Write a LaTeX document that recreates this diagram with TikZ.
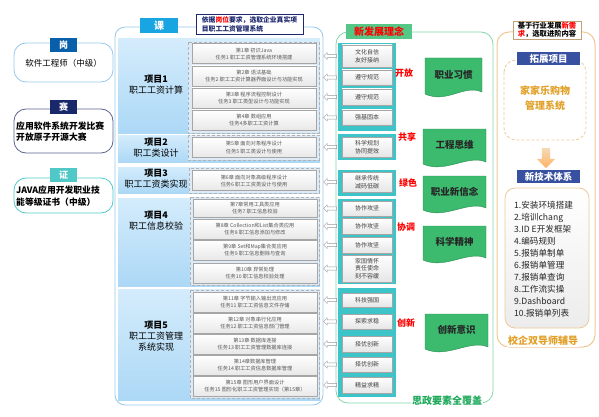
\documentclass[tikz,border=0pt]{standalone}
\usepackage{fontspec}
\setmainfont{Noto Sans CJK SC}
\usepackage{xcolor}
\usepackage{tikz}
\usetikzlibrary{arrows.meta,positioning,shapes.arrows}

\definecolor{gangblue}{RGB}{10,95,170}
\definecolor{gangline}{RGB}{150,200,235}
\definecolor{sainavy}{RGB}{25,40,105}
\definecolor{sailine}{RGB}{90,100,140}
\definecolor{zhengteal}{RGB}{80,200,200}
\definecolor{keblue}{RGB}{25,165,225}
\definecolor{bandtop}{RGB}{212,236,252}
\definecolor{bandbot}{RGB}{172,216,246}
\definecolor{grpfill}{RGB}{222,235,247}
\definecolor{tealgrp}{RGB}{60,196,200}
\definecolor{newgreen}{RGB}{85,200,135}
\definecolor{greenline}{RGB}{130,215,170}
\definecolor{docgreen}{RGB}{60,186,110}
\definecolor{docline}{RGB}{40,140,80}
\definecolor{orline}{RGB}{240,200,150}
\definecolor{ortext}{RGB}{225,160,40}
\definecolor{tagblue}{RGB}{55,80,160}
\definecolor{sizheng}{RGB}{30,170,90}
\definecolor{notenavy}{RGB}{30,40,110}

% wavy document box: x0,y0,x1,y1
\newcommand{\wavedoc}[4]{%
  \draw[docline, fill=docgreen] (#1,#2) -- (#3,#2) -- (#3,#4-5)
    .. controls (#3-18,#4-13) and (#1+22,#4+7) .. (#1,#4-3) -- cycle;}

\begin{document}
\begin{tikzpicture}[x=1pt, y=-1pt,
    tag/.style={minimum width=27pt, minimum height=14pt, inner sep=0pt, text=white, font=\fontsize{9}{10}\selectfont\bfseries},
    bigtag/.style={minimum width=63pt, minimum height=13pt, inner sep=0pt, fill=tagblue, text=white, font=\fontsize{9.5}{10}\selectfont\bfseries},
    proj/.style={align=center, font=\fontsize{9}{11}\selectfont},
    grp/.style={draw=gray!60, densely dashed, fill=grpfill},
    chap/.style={draw=gray!70, top color=white, bottom color=gray!18, minimum width=124pt, minimum height=20pt, inner sep=0pt, align=center, text=black!65, font=\fontsize{5.2}{7}\selectfont},
    item/.style={draw=gray!70, top color=white, bottom color=gray!20, minimum width=50pt, inner sep=1pt, align=center, text=black!75, font=\fontsize{6}{7.5}\selectfont},
    harrow/.style={single arrow, shape border rotate=180, draw=gray!80, fill=white, minimum height=13pt, inner sep=1.4pt, single arrow head extend=2pt},
    idea/.style={text=red, font=\fontsize{9}{10}\selectfont\bfseries},
    doctext/.style={text=black!85, font=\fontsize{9.5}{11}\selectfont\bfseries}]
  \useasboundingbox (0,0) rectangle (599,417);

  % left column
  \draw[gangline, line width=0.8pt, rounded corners=12] (14,43) rectangle (113,82);
  \node[tag, fill=gangblue] (gang) at (63.5,45) {岗};
  \node[font=\fontsize{8.5}{10}\selectfont] (gangtxt) at (63.5,63) {软件工程师（中级）};
  \draw[sailine, line width=0.8pt, rounded corners=12] (14,109) rectangle (113,153);
  \node[tag, fill=sainavy] (sai) at (63.5,107.5) {赛};
  \node[anchor=west, align=left, inner sep=0pt, font=\fontsize{8.8}{11}\selectfont\bfseries] (saitxt) at (16,131.5) {应用软件系统开发比赛\\开放原子开源大赛};
  \draw[zhengteal, line width=0.8pt, rounded corners=12] (14,178) rectangle (113,213);
  \node[tag, fill=zhengteal] (zheng) at (63.5,175) {证};
  \node[anchor=west, align=left, inner sep=0pt, font=\fontsize{8.8}{12}\selectfont\bfseries] (zhengtxt) at (16,196) {JAVA应用开发职业技\\能等级证书（中级）};

  % course panel
  \draw[gangline, line width=0.8pt, rounded corners=10] (115,27) rectangle (323,405);
  \node[tag, fill=keblue, minimum width=38pt, minimum height=15pt, font=\fontsize{10}{11}\selectfont\bfseries] (ke) at (159,25.5) {课};
  \node[draw=notenavy, fill=white, minimum width=107pt, minimum height=20pt, inner sep=1pt, align=left, text=notenavy, font=\fontsize{6.8}{9}\selectfont\bfseries] (note) at (249.5,24)
    {依据\textcolor{red}{岗位}要求，选取企业真实项\\目职工工资管理系统};
  \fill[top color=bandtop, bottom color=bandbot] (118,39) rectangle (320,133);
  \fill[top color=bandtop, bottom color=bandbot] (118,135) rectangle (320,162);
  \fill[top color=bandtop, bottom color=bandbot] (118,167) rectangle (320,193);
  \fill[top color=bandtop, bottom color=bandbot] (118,198) rectangle (320,286);
  \fill[top color=bandtop, bottom color=bandbot] (118,289) rectangle (320,400);
  \node[proj] (p1) at (156,85) {\textbf{项目1}\\职工工资计算};
  \node[proj] (p2) at (156,148) {\textbf{项目2}\\职工类设计};
  \node[proj] (p3) at (156,179) {\textbf{项目3}\\职工工资类实现};
  \node[proj] (p4) at (156,221) {\textbf{项目4}\\职工信息校验};
  \node[proj] (p5) at (156,336) {\textbf{项目5}\\职工工资管理\\系统实现};
  \draw[grp] (188,42) rectangle (319,133);
  \draw[grp] (188,135) rectangle (319,160);
  \draw[grp] (189,168) rectangle (319,193);
  \draw[grp] (190,197) rectangle (319,285);
  \draw[grp] (190,290) rectangle (319,398);
  \node[chap] (c1) at (254,53.5) {第1章\ 初识Java\\任务1 职工工资管理系统环境搭建};
  \node[chap] (c2) at (254,76) {第2章\ 语法基础\\任务2 职工工资计算器界面设计与功能实现};
  \node[chap] (c3) at (254,98) {第3章\ 程序流程控制设计\\任务3 职工类型设计与功能实现};
  \node[chap] (c4) at (254,120) {第4章\ 数组应用\\任务4多职工工资计算};
  \node[chap] (c5) at (254,147.5) {第5章\ 面向对象程序设计\\任务5 职工类设计与使用};
  \node[chap] (c6) at (254,180.5) {第6章\ 面向对象高级程序设计\\任务6\ 职工工资类设计与使用};
  \node[chap, minimum height=18pt] (c7) at (255,208) {第7章常用工具类应用\\任务7\ 职工信息校验};
  \node[chap] (c8) at (255,229) {第8章\ Collection和List集合类应用\\任务8\ 职工信息添加与修改};
  \node[chap] (c9) at (255,250) {第9章 Set和Map集合类应用\\任务9\ 职工信息删除与查询};
  \node[chap] (c10) at (255,273) {第10章\ 异常处理\\任务10\ 职工信息校验处理};
  \node[chap] (c11) at (255,302) {第11章\ 字节输入输出流应用\\任务11\ 职工工资信息文件存储};
  \node[chap] (c12) at (255,323) {第12章\ 对象串行化应用\\任务12\ 职工工资信息部门管理};
  \node[chap] (c13) at (255,344) {第13章\ 数据库连接\\任务13\ 职工工资管理数据库连接};
  \node[chap] (c14) at (255,365) {第14章数据库管理\\任务14\ 职工工资信息数据库管理};
  \node[chap] (c15) at (255,386.5) {第15章\ 图形用户界面设计\\任务15\ 图形化职工工资管理实现（第15章）};

  % ideas panel
  \draw[greenline, line width=0.8pt, rounded corners=12] (336,32) rectangle (493,403);
  \node[fill=newgreen, minimum width=66pt, minimum height=15pt, inner sep=0pt, text=red, font=\fontsize{10}{11}\selectfont\bfseries] (xin) at (379,31.5) {新发展理念};
  \node[fill=white, inner sep=1pt, text=sizheng, font=\fontsize{10}{11}\selectfont\bfseries] (sz) at (447,401) {思政要素全覆盖};
  \fill[tealgrp] (338,43) rectangle (396,131);
  \fill[tealgrp] (338,134) rectangle (396,160);
  \fill[tealgrp] (338,170) rectangle (396,196);
  \fill[tealgrp] (338,199) rectangle (396,284);
  \fill[tealgrp] (338,288) rectangle (396,397);
  \node[item, minimum height=22pt] (i1) at (367,56) {文化自信\\友好接纳};
  \node[item, minimum height=15pt] (i2) at (367,77.5) {遵守规范};
  \node[item, minimum height=16pt] (i3) at (367,97) {遵守规范};
  \node[item, minimum height=15pt] (i4) at (367,117.5) {强基固本};
  \node[item, minimum height=20pt] (i5) at (367,147) {科学规划\\协同提效};
  \node[item, minimum height=20pt] (i6) at (367,182) {继承传统\\减码低碳};
  \node[item, minimum height=15pt] (i7) at (367,208.5) {协作攻坚};
  \node[item, minimum height=16pt] (i8) at (367,226) {协作攻坚};
  \node[item, minimum height=16pt] (i9) at (367,245) {协作攻坚};
  \node[item, minimum height=27pt] (i10) at (367,268.5) {家国情怀\\责任使命\\刻不容缓};
  \node[item, minimum height=14pt] (i11) at (367,300) {科技强国};
  \node[item, minimum height=15pt] (i12) at (367,321.5) {探索求稳};
  \node[item, minimum height=16pt] (i13) at (367,344) {择优创新};
  \node[item, minimum height=15pt] (i14) at (367,364.5) {择优创新};
  \node[item, minimum height=16pt] (i15) at (367,385) {精益求精};
  \foreach \n in {1,...,15}
    \node[harrow, left=5pt of i\n.west] (ar\n) {};
  \node[idea] (kf) at (404,73) {开放};
  \node[idea] (gx) at (407,137) {共享};
  \node[idea] (ls) at (408,183) {绿色};
  \node[idea] (xt) at (406,227) {协调};
  \node[idea] (cx) at (406,323) {创新};
  \wavedoc{425}{58}{482}{97}
  \node[doctext] (d1) at (453.5,75) {职业习惯};
  \wavedoc{423}{129}{486}{167}
  \node[doctext] (d2) at (454.5,145) {工程思维};
  \wavedoc{423}{176}{486}{213}
  \node[doctext] (d3) at (454.5,192) {职业新信念};
  \wavedoc{423}{226}{486}{263}
  \node[doctext] (d4) at (454.5,242) {科学精神};
  \wavedoc{425}{314}{488}{352}
  \node[doctext] (d5) at (456.5,330) {创新意识};

  % extension panel
  \draw[orline, line width=1pt, rounded corners=12] (497,32) rectangle (595,347);
  \node[draw=orline!80!black, fill=white, minimum width=68pt, minimum height=18pt, inner sep=0.5pt, align=left, font=\fontsize{7.3}{8.3}\selectfont\bfseries] (jy) at (547,30)
    {基于行业发展\textcolor{red}{新需}\\\textcolor{red}{求}，选取进阶内容};
  \node[fill=white, inner sep=1pt, text=ortext, font=\fontsize{10}{11}\selectfont\bfseries] (xq) at (543,341) {校企双导师辅导};
  \draw[orline, densely dashed, line width=0.8pt, rounded corners=12] (504,60) rectangle (586,140);
  \node[bigtag] (tz) at (548.5,58.5) {拓展项目};
  \node[align=center, text=ortext, font=\fontsize{10}{15}\selectfont\bfseries] (jjl) at (545,98) {家家乐购物\\管理系统};
  \node[single arrow, shape border rotate=270, top color=orline!70, bottom color=orange!60, draw=none, minimum height=20pt, inner sep=4pt, single arrow head extend=5pt] (down) at (546,156) {};
  \node[bigtag] (jsx) at (548.5,176.5) {新技术体系};
  \draw[orline, line width=0.8pt, top color=white, bottom color=gray!15, rounded corners=10] (505,188) rectangle (589,328);
  \node[anchor=west, align=left, inner sep=0pt, text=black!85, font=\fontsize{8.6}{12}\selectfont] (list) at (514,259)
    {1.安装环境搭建\\2.培训chang\\3.ID E开发框架\\4.编码规则\\5.报销单制单\\6.报销单管理\\7.报销单查询\\8.工作流实操\\9.Dashboard\\10.报销单列表};
\end{tikzpicture}
\end{document}
